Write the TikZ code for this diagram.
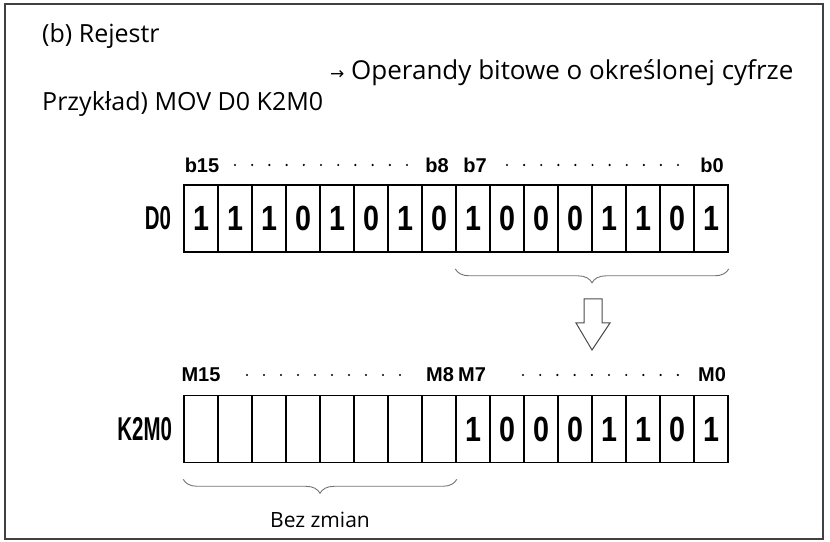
\documentclass[tikz,border=0pt]{standalone}
\usepackage{fontspec}
\setmainfont{Open Sans}
\newfontfamily\symfont{DejaVu Sans}
\newfontfamily\gothic{Liberation Sans}
\newfontfamily\gothicdigit[FakeStretch=0.82]{Liberation Sans}
\newfontfamily\gothicnarrow[FakeStretch=0.62]{Liberation Sans}
\usetikzlibrary{positioning,decorations.pathreplacing}

\tikzset{
    cell/.style={draw, line width=1.6pt, minimum width=34pt, minimum height=67pt,
        inner sep=0pt, font=\gothicdigit\bfseries\fontsize{35}{35}\selectfont},
    bitlbl/.style={inner sep=0pt, font=\gothic\bfseries\fontsize{20}{20}\selectfont},
    reglbl/.style={inner sep=0pt, font=\gothicnarrow\bfseries\fontsize{33}{33}\selectfont},
    txt/.style={inner sep=0pt, anchor=west, font=\fontsize{25}{30}\selectfont},
    bracegray/.style={draw=black!55, line width=0.9pt,
        decorate, decoration={brace, amplitude=14pt, mirror}}
}

\begin{document}
\begin{tikzpicture}[x=1pt, y=1pt]

\useasboundingbox (0,0) rectangle (830,541);

% frame
\draw[black!75, line width=1.4pt] (5,2) rectangle (823,537);

% texts
\node[txt] (title) at (42,505) {(b) Rejestr};
\node[txt, font=\fontsize{26}{30}\selectfont] (opnote) at (330,468)
    {{\symfont\fontsize{17}{17}\selectfont →} Operandy bitowe o określonej cyfrze};
\node[txt] (example) at (42,437) {Przykład) MOV D0 K2M0};

% D0 register
\foreach \v [count=\k from 0, evaluate=\k as \i using int(15-\k)]
    in {1,1,1,0,1,0,1,0,1,0,0,0,1,1,0,1}
    \node[cell] (d\i) at (201+34*\k,322.5) {\v};
\node[reglbl, left=12pt of d15] (lD0) {D0};

\node[bitlbl] (b15) at (202,376) {b15};
\node[bitlbl] (b8) at (437,376) {b8};
\node[bitlbl] (b7) at (475,376) {b7};
\node[bitlbl] (b0) at (712,376) {b0};
\foreach \x in {0,...,10}
{
    \fill (235+17.2*\x,376) circle (1.2);
    \fill (507+17.1*\x,376) circle (1.2);
}

% lower byte brace
\draw[bracegray] ([yshift=-16pt]d7.south west) -- ([yshift=-16pt]d0.south east)
    coordinate[midway] (btip);

% transfer arrow
\draw[black!70, line width=1pt, fill=white]
    (584,242) -- (602,242) -- (602,218) -- (610,218) -- (592,191)
    -- (576,218) -- (584,218) -- cycle;

% K2M0 register
\foreach \k [evaluate=\k as \i using int(15-\k)] in {0,...,7}
    \node[cell] (m\i) at (201+34*\k,112) {};
\foreach \v [count=\k from 8, evaluate=\k as \i using int(15-\k)]
    in {1,0,0,0,1,1,0,1}
    \node[cell] (m\i) at (201+34*\k,112) {\v};
\node[reglbl, left=11pt of m15] (lK2M0) {K2M0};

\node[bitlbl] (m15lbl) at (201,166) {M15};
\node[bitlbl] (m8lbl) at (440,166) {M8};
\node[bitlbl] (m7lbl) at (472,166) {M7};
\node[bitlbl] (m0lbl) at (712,166) {M0};
\foreach \x in {0,...,9}
{
    \fill (247+17*\x,166) circle (1.2);
    \fill (523+17.2*\x,166) circle (1.2);
}

% upper byte brace
\draw[bracegray] ([yshift=-16pt]m15.south west) -- ([yshift=-16pt]m8.south east)
    coordinate[midway] (mtip);
\node[inner sep=0pt, font=\fontsize{21}{21}\selectfont] (nochg) at (320,21) {Bez zmian};

\end{tikzpicture}
\end{document}
